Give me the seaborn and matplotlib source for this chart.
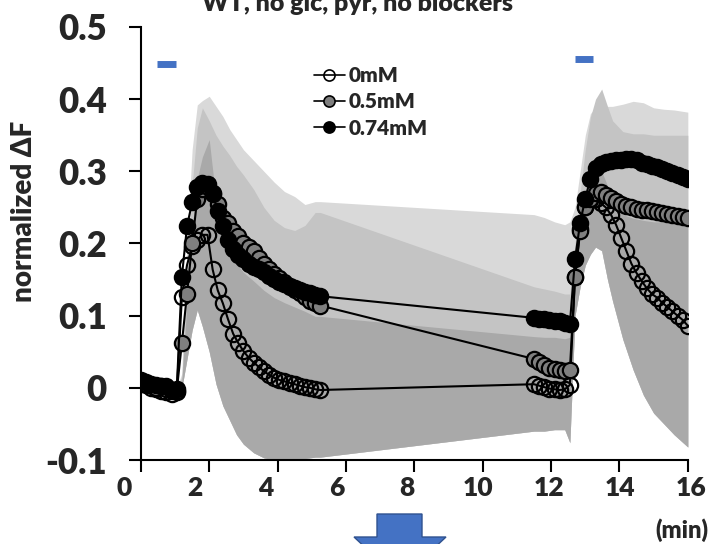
import matplotlib
matplotlib.use("Agg")
import matplotlib.pyplot as plt
import matplotlib.transforms as mtransforms
from matplotlib.patches import Polygon
from matplotlib.lines import Line2D
import seaborn as sns

# time points (min) of the two recordings
t_first = [0.0, 0.15, 0.3, 0.45, 0.6, 0.75, 0.9, 1.05, 1.2, 1.35, 1.5, 1.65, 1.8, 1.95,
           2.1, 2.25, 2.4, 2.55, 2.7, 2.85, 3.0, 3.15, 3.3, 3.45, 3.6, 3.75, 3.9, 4.05,
           4.2, 4.35, 4.5, 4.65, 4.8, 4.95, 5.1, 5.25]
t_second = [11.5, 11.65, 11.8, 11.95, 12.1, 12.25, 12.4, 12.55, 12.7, 12.85, 13.0, 13.15,
            13.3, 13.45, 13.6, 13.75, 13.9, 14.05, 14.2, 14.35, 14.5, 14.65, 14.8, 14.95,
            15.1, 15.25, 15.4, 15.55, 15.7, 15.85, 16.0]

# mean traces
zero_first = [0.006, 0.004, 0.0, -0.002, -0.004, -0.006, -0.008, -0.006, 0.126, 0.17,
              0.196, 0.205, 0.212, 0.212, 0.164, 0.135, 0.117, 0.095, 0.075, 0.062, 0.051,
              0.042, 0.035, 0.029, 0.023, 0.018, 0.014, 0.011, 0.009, 0.007, 0.005, 0.003,
              0.001, 0.0, -0.002, -0.003]
zero_second = [0.005, 0.003, 0.001, -0.001, -0.002, -0.003, -0.002, 0.004, 0.154, 0.22,
               0.25, 0.26, 0.262, 0.256, 0.25, 0.24, 0.226, 0.208, 0.19, 0.172, 0.159, 0.148,
               0.138, 0.13, 0.125, 0.118, 0.112, 0.106, 0.1, 0.094, 0.086]
half_first = [0.01, 0.006, 0.004, 0.0, 0.002, -0.002, -0.005, -0.004, 0.062, 0.13, 0.2,
              0.262, 0.275, 0.278, 0.27, 0.255, 0.235, 0.228, 0.218, 0.21, 0.2, 0.195, 0.19,
              0.18, 0.172, 0.165, 0.158, 0.152, 0.146, 0.141, 0.136, 0.131, 0.126, 0.121,
              0.117, 0.114]
half_second = [0.04, 0.036, 0.032, 0.028, 0.026, 0.025, 0.024, 0.025, 0.153, 0.217, 0.25,
               0.262, 0.27, 0.271, 0.267, 0.263, 0.259, 0.255, 0.252, 0.25, 0.248, 0.247,
               0.246, 0.245, 0.244, 0.242, 0.241, 0.239, 0.238, 0.237, 0.236]
high_first = [0.011, 0.008, 0.005, 0.004, 0.003, 0.002, -0.003, -0.002, 0.154, 0.224, 0.257,
              0.278, 0.284, 0.283, 0.268, 0.245, 0.224, 0.205, 0.192, 0.184, 0.178, 0.172,
              0.168, 0.164, 0.16, 0.155, 0.151, 0.147, 0.144, 0.14, 0.138, 0.135, 0.133,
              0.131, 0.129, 0.127]
high_second = [0.097, 0.096, 0.095, 0.094, 0.093, 0.092, 0.09, 0.089, 0.178, 0.229, 0.262,
               0.29, 0.305, 0.31, 0.313, 0.314, 0.315, 0.316, 0.317, 0.317, 0.315, 0.312,
               0.31, 0.308, 0.306, 0.303, 0.3, 0.297, 0.295, 0.292, 0.29]

# SD bands (shaded areas), upper edges per concentration and shared lower edge
t_band = [1.05, 1.2, 1.35, 1.5, 1.65, 1.8, 2.0, 2.2, 2.4, 2.6, 2.8, 3.0, 3.3, 3.6, 3.9, 4.2,
          4.5, 4.8, 5.1, 5.25, 11.5, 11.8, 12.1, 12.4, 12.55, 12.7, 12.85, 13.0, 13.15, 13.3,
          13.48, 13.65, 13.8, 14.1, 14.4, 14.7, 15.0, 15.3, 15.6, 16.0]
band_high = [0.0, 0.02, 0.2, 0.33, 0.392, 0.398, 0.404, 0.39, 0.376, 0.358, 0.344, 0.33,
             0.315, 0.3, 0.285, 0.272, 0.265, 0.254, 0.258, 0.258, 0.24, 0.236, 0.23, 0.226,
             0.23, 0.25, 0.3, 0.35, 0.38, 0.388, 0.39, 0.39, 0.39, 0.393, 0.397, 0.395, 0.388,
             0.386, 0.385, 0.382]
band_half = [0.0, 0.015, 0.15, 0.28, 0.36, 0.388, 0.37, 0.35, 0.335, 0.322, 0.307, 0.295,
             0.275, 0.25, 0.232, 0.222, 0.218, 0.225, 0.243, 0.243, 0.14, 0.137, 0.134, 0.13,
             0.13, 0.2, 0.27, 0.33, 0.375, 0.4, 0.414, 0.39, 0.37, 0.355, 0.352, 0.352, 0.35,
             0.35, 0.35, 0.35]
band_zero = [0.0, 0.01, 0.12, 0.22, 0.29, 0.32, 0.344, 0.26, 0.2, 0.185, 0.172, 0.16, 0.148,
             0.135, 0.125, 0.118, 0.112, 0.106, 0.099, 0.099, 0.071, 0.07, 0.07, 0.068, 0.07,
             0.15, 0.22, 0.27, 0.3, 0.31, 0.3, 0.28, 0.26, 0.24, 0.235, 0.232, 0.23, 0.23,
             0.23, 0.229]
band_low = [0.0, 0.0, 0.04, 0.08, 0.108, 0.085, 0.05, 0.005, -0.025, -0.045, -0.065, -0.078,
            -0.09, -0.097, -0.1, -0.1, -0.1, -0.098, -0.096, -0.096, -0.06, -0.06, -0.058,
            -0.058, -0.076, 0.1, 0.14, 0.17, 0.185, 0.195, 0.19, 0.15, 0.12, 0.067, 0.025,
            -0.01, -0.035, -0.05, -0.065, -0.082]

# stimulus bars
stim_on = [0.48, 12.7]
stim_off = [1.02, 13.22]
stim_level = [0.449, 0.456]

labels = ["0mM", "0.5mM", "0.74mM"]
faces = ["none", "#7f7f7f", "black"]
band_colors = ["#d9d9d9", "#c4c4c4", "#a9a9a9"]
x_ticks = [0, 2, 4, 6, 8, 10, 12, 14, 16]
y_ticks = [-0.1, 0, 0.1, 0.2, 0.3, 0.4, 0.5]
y_labels = ["-0.1", "0", "0.1", "0.2", "0.3", "0.4", "0.5"]

sns.set_style("ticks")
plt.rcParams["font.family"] = ["Lato", "DejaVu Sans"]
plt.rcParams["font.weight"] = "bold"

fig = plt.figure(figsize=(7.15, 5.44), dpi=100)
ax = fig.add_axes([0.197, 0.1544, 0.765, 0.796])

for upper, bc in zip([band_high, band_half, band_zero], band_colors):
    ax.fill_between(t_band, band_low, upper, color=bc, lw=0, zorder=1)

time = t_first + t_second
series = [zero_first + zero_second, half_first + half_second, high_first + high_second]
for vals, fc in zip(series, faces):
    sns.lineplot(x=time, y=vals, ax=ax, estimator=None, sort=False, color="black", lw=1.5,
                 marker="o", markersize=11, markerfacecolor=fc, markeredgecolor="black",
                 markeredgewidth=1.6, legend=False, zorder=3)

ax.hlines(stim_level, stim_on, stim_off, color="#4472C4", lw=5, capstyle="butt", zorder=4)

ax.set_xlim(0, 16)
ax.set_ylim(-0.1, 0.5)
ax.set_xticks(x_ticks)
ax.set_xticklabels([str(v) for v in x_ticks], fontsize=19, fontweight="heavy")
ax.set_yticks(y_ticks)
ax.set_yticklabels(y_labels, fontsize=25, fontweight="heavy")
ax.tick_params(axis="both", direction="out", length=8.5, width=1.5, color="black")
ax.tick_params(axis="y", pad=16)
ax.tick_params(axis="x", pad=3)
sns.despine(ax=ax)
for s in ["left", "bottom"]:
    ax.spines[s].set_linewidth(1.5)
    ax.spines[s].set_color("black")
ax.set_xlabel("")
ax.set_ylabel("")
fig.text(24 / 715, 1 - 211 / 544, "normalized ΔF", rotation=90, ha="center", va="center",
         fontsize=20, fontweight="heavy")

handles = [Line2D([], [], color="black", lw=1.2, marker="o", ms=8, mfc=fc, mec="black", mew=1.2)
           for fc in faces]
ax.legend(handles, labels, loc="upper left", bbox_to_anchor=(0.316, 0.91), frameon=False,
          prop={"size": 15, "weight": "heavy"}, handlelength=1.5, handletextpad=0.2,
          labelspacing=0.35, borderpad=0, borderaxespad=0)

fig.text(0.5, 1 - 11 / 544, "WT, no glc, pyr, no blockers", ha="center", va="baseline",
         fontsize=18, fontweight="heavy")
fig.text(708 / 715, 1 - 538 / 544, "(min)", ha="right", va="baseline", fontsize=17,
         fontweight="heavy")

# big blue arrow under the axis
arrow_px = [(377, 514), (422, 514), (422, 537), (446, 537), (400, 580), (354, 537), (377, 537)]
fig.patches.append(Polygon([(x / 715, 1 - y / 544) for x, y in arrow_px], closed=True,
                           transform=fig.transFigure, facecolor="#4472C4",
                           edgecolor="#2F528F", lw=1))

# x tick labels in the original sit on a slightly wider spacing than the ticks
for lab, v in zip(ax.get_xticklabels(), x_ticks):
    dx = (-17 + 1.25 * v) / 100
    lab.set_transform(lab.get_transform() +
                      mtransforms.ScaledTranslation(dx, 0, fig.dpi_scale_trans))

fig.savefig("out.png", dpi=100)
